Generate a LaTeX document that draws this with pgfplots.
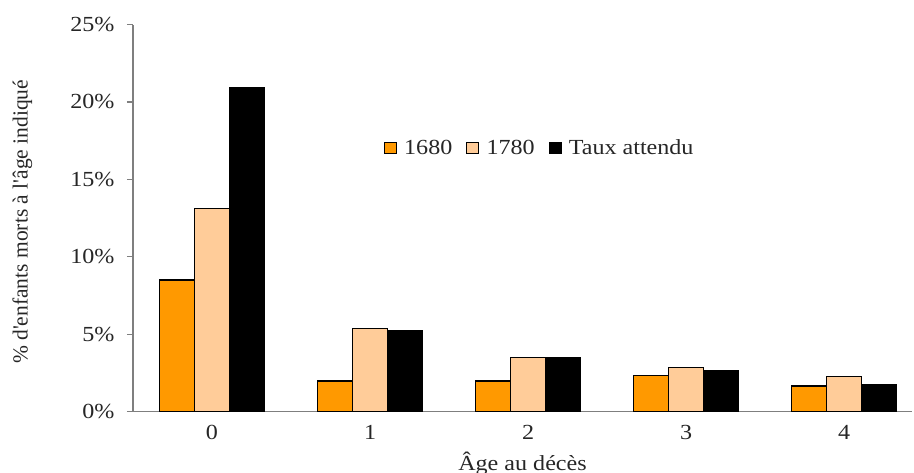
\documentclass[border=0pt]{standalone}
\usepackage{fontspec}
\setmainfont{Liberation Serif}[FakeStretch=1.12]
\newfontfamily\yfont{Liberation Serif}
\usepackage{pgfplots}
\pgfplotsset{compat=1.18}
\definecolor{c1680}{HTML}{FF9900}
\definecolor{c1780}{HTML}{FFCC99}
\definecolor{axgray}{HTML}{7F7F7F}
\begin{document}
\begin{tikzpicture}[x=1pt,y=1pt]
\path[use as bounding box] (0,0) rectangle (914,472);
\begin{axis}[
  at={(133pt,60.5pt)}, anchor=south west,
  scale only axis, width=779pt, height=387pt,
  xmin=-0.5, xmax=4.43, ymin=0, ymax=25,
  ybar=0pt, bar width=35pt,
  axis x line*=bottom, axis y line*=left,
  axis line style={axgray, line width=1.2pt},
  xtick={0,1,2,3,4}, xticklabels={0,1,2,3,4},
  major x tick style={draw=none},
  extra x ticks={-0.5,0.5,1.5,2.5,3.5},
  extra x tick labels={},
  extra x tick style={major tick length=6pt, tick style={axgray, line width=1.2pt}, tick align=outside},
  ytick={0,5,10,15,20,25},
  yticklabel={\pgfmathprintnumber{\tick}\%},
  /pgf/number format/assume math mode=true,
  y tick style={axgray, line width=1.2pt},
  tick align=outside, major tick length=6pt,
  tick label style={font=\fontsize{21.5}{25}\selectfont, text=black!85},
  yticklabel style={xshift=-9pt},
  xticklabel style={yshift=-4pt},
  xlabel={Âge au décès},
  xlabel style={font=\fontsize{21.5}{25}\selectfont, text=black!85, yshift=6pt},
  ylabel={\yfont \% d'enfants morts à l'âge indiqué},
  ylabel style={font=\fontsize{21.5}{25}\selectfont, text=black!85, at={(axis description cs:-0.142,0.49)}, anchor=center},
  legend style={draw=none, fill=none, at={(axis description cs:0.322,0.681)}, anchor=west,
    font=\fontsize{21.5}{25}\selectfont, text=black!85, column sep=0pt, inner sep=0pt,
    /tikz/every even column/.append style={column sep=12pt}},
  legend columns=3,
  legend image code/.code={\draw[#1, line width=1pt] (0pt,-5.5pt) rectangle (12pt,5.5pt); \path (17pt,0pt);},
]
\addplot[fill=c1680, draw=black, line width=1.3pt] coordinates {(0,8.5) (1,1.97) (2,1.97) (3,2.34) (4,1.65)};
\addplot[fill=c1780, draw=black, line width=1.3pt] coordinates {(0,13.1) (1,5.35) (2,3.48) (3,2.83) (4,2.27)};
\addplot[fill=black, draw=black, line width=1.3pt] coordinates {(0,20.9) (1,5.25) (2,3.48) (3,2.62) (4,1.73)};
\legend{1680,1780,Taux attendu}
\end{axis}
\end{tikzpicture}
\end{document}
